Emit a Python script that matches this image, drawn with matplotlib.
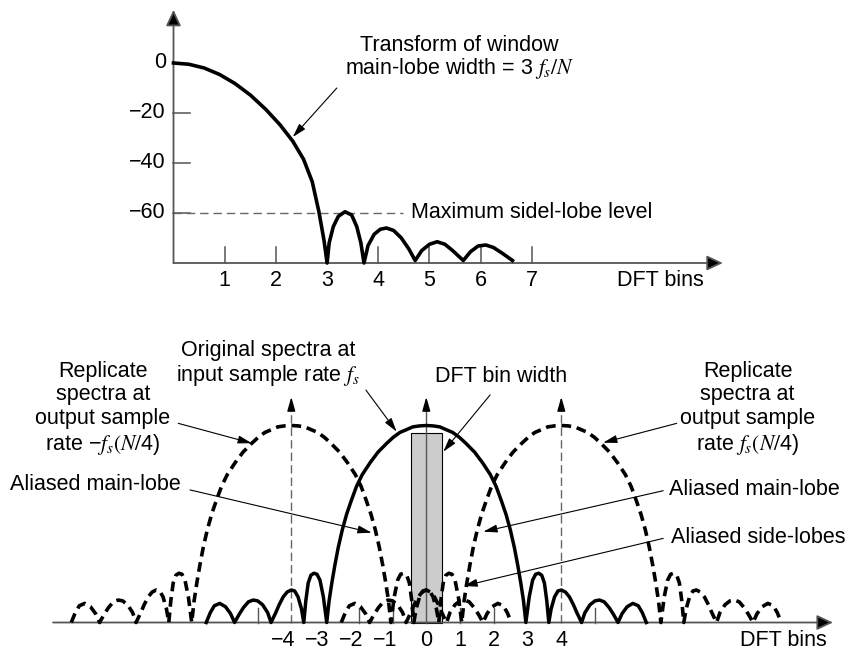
import numpy as np
import matplotlib
matplotlib.use('Agg')
import matplotlib.pyplot as plt
from matplotlib.patches import Rectangle

plt.rcParams['font.family'] = ['Liberation Sans', 'DejaVu Sans']
plt.rcParams['mathtext.fontset'] = 'stix'

# Window transform, level in dB against DFT bins (upper plot)
win_bins = [0.0, 0.3, 0.6, 0.9, 1.2, 1.5, 1.8, 2.08, 2.33, 2.54, 2.71, 2.84, 2.94, 3.0,
            3.04, 3.12, 3.22, 3.35, 3.48, 3.58, 3.66, 3.72,
            3.80, 3.92, 4.04, 4.16, 4.30, 4.45, 4.60, 4.72,
            4.85, 5.0, 5.15, 5.3, 5.45, 5.66,
            5.8, 5.95, 6.1, 6.25, 6.45, 6.62]
win_db = [0.0, -0.5, -2.0, -4.6, -8.2, -12.8, -18.5, -24.7, -31.3, -38.5, -47.5, -59.5, -71.0, -80.0,
          -72.0, -65.5, -61.3, -59.5, -60.8, -65.5, -72.0, -80.0,
          -73.0, -68.5, -66.5, -66.0, -67.0, -70.0, -74.5, -79.0,
          -75.0, -72.5, -71.5, -72.5, -75.0, -79.0,
          -75.5, -73.2, -72.8, -73.8, -76.5, -79.0]
db_ticks = [-20, -40, -60]
db_labels = ['0', '\u221220', '\u221240', '\u221260']
bin_ticks = [1, 2, 3, 4, 5, 6, 7]
max_sidelobe_db = -60

# Spectrum magnitude for bins >= 0 (lower plot); the spectrum is symmetric about its centre
spec_bins = [0.0, 0.2, 0.4, 0.6, 0.78, 0.98, 1.17, 1.43, 1.67, 1.9, 2.07, 2.22, 2.36, 2.49,
             2.61, 2.71, 2.80, 2.88, 2.95,
             3.05, 3.15, 3.24, 3.33, 3.42, 3.50, 3.57, 3.63,
             3.70, 3.80, 3.90, 4.00, 4.12, 4.24, 4.36, 4.46, 4.60,
             4.70, 4.85, 5.00, 5.13, 5.27, 5.42, 5.55, 5.68,
             5.80, 5.95, 6.12, 6.28, 6.40, 6.52]
spec_mag = [1.0, 0.998, 0.993, 0.978, 0.965, 0.94, 0.91, 0.865, 0.81, 0.75, 0.69, 0.62, 0.55, 0.47,
            0.38, 0.29, 0.20, 0.11, 0.0,
            0.13, 0.215, 0.245, 0.25, 0.24, 0.20, 0.11, 0.0,
            0.07, 0.13, 0.16, 0.165, 0.155, 0.13, 0.09, 0.05, 0.0,
            0.05, 0.09, 0.11, 0.114, 0.105, 0.075, 0.04, 0.0,
            0.045, 0.08, 0.097, 0.085, 0.05, 0.0]
replica_centres = [-4, 4]
dft_bin_width = 0.92
dft_bin_height = 0.962
lower_labels = [-4, -3, -2, -1, 0, 1, 2, 3, 4]
lower_ticks = [-5, -2, -1, 1, 2, 5]

FS = 15.5
AXIS_GREY = '#555555'


def arrow(ax, start, end, hl=0.7, hw=0.2, scale=12, lw=0.8, ec='black'):
    ax.annotate('', xy=end, xytext=start, annotation_clip=False,
                arrowprops=dict(arrowstyle=f'-|>,head_length={hl},head_width={hw}',
                                mutation_scale=scale, lw=lw, ec=ec, fc='black',
                                shrinkA=0, shrinkB=0))


def draw_window(ax):
    # axes with arrow heads
    arrow(ax, (0, -80), (0, 21.3), hl=0.75, hw=0.35, scale=13, lw=1.3, ec=AXIS_GREY)
    arrow(ax, (0, -80), (10.73, -80), hl=0.75, hw=0.35, scale=13, lw=1.3, ec=AXIS_GREY)

    for t in db_ticks:
        ax.plot([0, 0.33], [t, t], color=AXIS_GREY, lw=1.1)
    for t in bin_ticks:
        ax.plot([t, t], [-80, -73.6], color=AXIS_GREY, lw=1.1)

    for t, lab in zip([0] + db_ticks, db_labels):
        ax.text(-0.15, t, lab, ha='right', va='center', fontsize=FS)
    for t in bin_ticks:
        ax.text(t, -87.2, str(t), ha='center', va='center', fontsize=FS)
    ax.text(8.66, -87.2, 'DFT bins', ha='left', va='center', fontsize=FS)

    ax.plot([0, 4.48], [max_sidelobe_db] * 2, color='#666666', lw=1.0,
            linestyle=(0, (6, 3.6)))
    ax.text(4.64, max_sidelobe_db, 'Maximum sidel-lobe level', ha='left', va='center',
            fontsize=FS)

    ax.plot(win_bins, win_db, color='black', lw=2.6, solid_joinstyle='round', zorder=3)

    ax.text(5.59, 2.0, 'Transform of window\nmain-lobe width = 3 $f_s/N$',
            ha='center', va='center', fontsize=FS, linespacing=1.0)
    arrow(ax, (3.19, -10.0), (2.33, -29.6))


def draw_spectra(ax):
    half_x = np.array(spec_bins)
    half_y = np.array(spec_mag)
    x = np.concatenate([-half_x[::-1], half_x[1:]])
    y = np.concatenate([half_y[::-1], half_y[1:]])

    # baseline and vertical markers
    arrow(ax, (-11.06, 0), (12.05, 0), hl=0.75, hw=0.35, scale=13, lw=1.3, ec=AXIS_GREY)
    ax.plot([0, 0], [0, 1.1], color=AXIS_GREY, lw=1.0, zorder=1.5)
    arrow(ax, (0, 1.08), (0, 1.145), lw=1.0)
    for c in replica_centres:
        ax.plot([c, c], [0, 1.1], color='#666666', lw=1.0, linestyle=(0, (6, 3)))
        arrow(ax, (c, 1.08), (c, 1.145), lw=1.0)
    for t in lower_ticks:
        ax.plot([t, t], [0, 0.076], color=AXIS_GREY, lw=1.0)

    ax.add_patch(Rectangle((-dft_bin_width / 2, 0), dft_bin_width, dft_bin_height,
                           fc='#cccccc', ec='black', lw=0.8, zorder=1))

    ax.plot(x, y, color='black', lw=2.5, solid_joinstyle='round', zorder=3)
    for c in replica_centres:
        ax.plot(x + c, y, color='black', lw=2.6, linestyle=(0, (2.7, 1.6)),
                dash_capstyle='butt', zorder=3)

    for t in lower_labels:
        lab = str(t).replace('-', '\u2212')
        ax.text(t - 0.23 if t < 0 else t, -0.089, lab, ha='center', va='center', fontsize=FS)
    ax.text(11.87, -0.089, 'DFT bins', ha='right', va='center', fontsize=FS)

    ax.text(-9.58, 1.085, 'Replicate\nspectra at\noutput sample\nrate \u2212$f_s(N/$4)',
            ha='center', va='center', fontsize=FS, linespacing=1.15)
    arrow(ax, (-7.35, 1.011), (-5.17, 0.91))

    ax.text(-4.68, 1.313, 'Original spectra at\ninput sample rate $f_s$',
            ha='center', va='center', fontsize=FS, linespacing=1.1)
    arrow(ax, (-1.79, 1.180), (-0.88, 0.969))

    ax.text(2.23, 1.248, 'DFT bin width', ha='center', va='center', fontsize=FS)
    arrow(ax, (1.89, 1.155), (0.504, 0.867))

    ax.text(9.52, 1.085, 'Replicate\nspectra at\noutput sample\nrate $f_s(N/$4)',
            ha='center', va='center', fontsize=FS, linespacing=1.15)
    arrow(ax, (7.42, 1.011), (5.24, 0.913))

    ax.text(-12.33, 0.698, 'Aliased main-lobe', ha='left', va='center', fontsize=FS)
    arrow(ax, (-7.0, 0.673), (-1.62, 0.456))

    ax.text(7.2, 0.676, 'Aliased main-lobe', ha='left', va='center', fontsize=FS)
    arrow(ax, (7.02, 0.669), (1.69, 0.461))

    ax.text(7.24, 0.432, 'Aliased side-lobes', ha='left', va='center', fontsize=FS)
    arrow(ax, (7.02, 0.427), (1.10, 0.185))


if __name__ == "__main__":
    W, H = 853, 651
    fig = plt.figure(figsize=(W / 100, H / 100), dpi=100)

    # upper panel: rows 0..290, 51.2 px per bin, 2.5 px per dB
    ax1 = fig.add_axes([0, 1 - 290 / H, 1, 290 / H])
    ax1.set_xlim(-173.5 / 51.2, (W - 173.5) / 51.2)
    ax1.set_ylim((63 - 290) / 2.5, 63 / 2.5)
    ax1.axis('off')

    # lower panel: rows 290..651, 33.75 px per bin
    ax2 = fig.add_axes([0, 0, 1, 361 / H])
    ax2.set_xlim(-426.3 / 33.75, (W - 426.3) / 33.75)
    ax2.set_ylim((622.5 - 651) / 197, (622.5 - 290) / 197)
    ax2.axis('off')

    draw_window(ax1)
    draw_spectra(ax2)

    fig.savefig('out.png', dpi=100)
